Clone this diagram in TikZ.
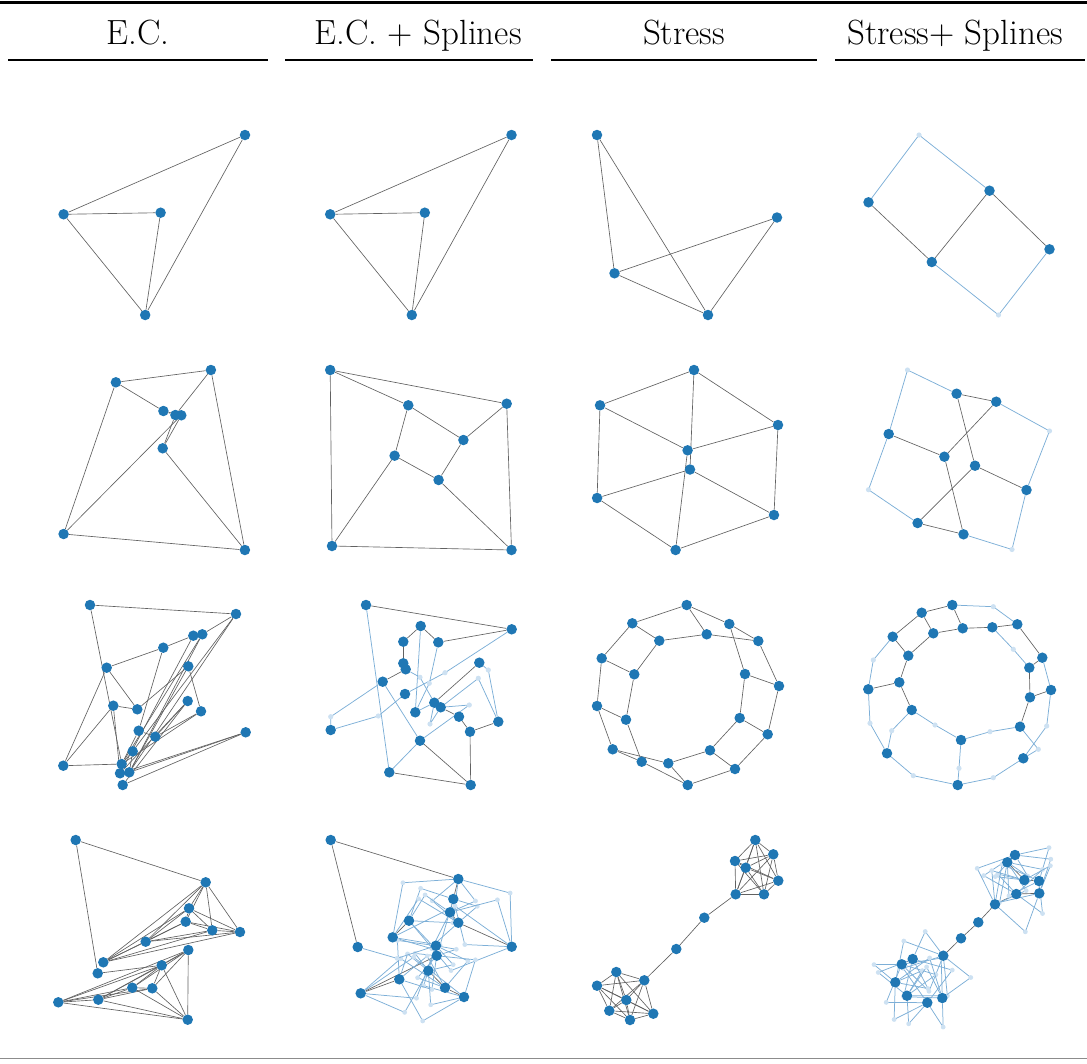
\documentclass[tikz,border=0pt]{standalone}
\usepackage{fontspec}
\usetikzlibrary{calc}
\definecolor{tabblue}{RGB}{31,119,180}
\definecolor{splblue}{RGB}{125,175,215}
\definecolor{cpcol}{RGB}{205,225,242}
\pgfdeclarelayer{bg}
\pgfsetlayers{bg,main}
\tikzset{
 vtx/.style={circle,fill=tabblue,inner sep=0pt,minimum size=10.5pt},
 edg/.style={draw=black!62,line width=0.65pt},
 spl/.style={draw=splblue,line width=0.75pt},
 hdr/.style={font=\fontsize{35}{40}\selectfont,anchor=base,inner sep=0pt},
 rulel/.style={line width=1.2pt},
}
\newcommand\bentedge[3]{%
 \draw[spl] (#1) -- ($(#1)!0.5!(#2)!#3!90:(#2)$) coordinate (tmpcp) -- (#2);
 \fill[cpcol] (tmpcp) circle (2.4pt);}
\newcommand\cpdot[1]{\fill[cpcol] (#1) circle (2.6pt);}
\begin{document}
\begin{tikzpicture}[x=1pt,y=-1pt]
\path[use as bounding box] (0,0) rectangle (1087,1063);
% header
\fill (0,1.3) rectangle (1087,4.3);
\node[hdr] (t1) at (138,44) {E.C.};
\node[hdr] (t2) at (418,44) {E.C. + Splines};
\node[hdr] (t3) at (684,44) {Stress};
\node[hdr] (t4) at (955,44) {Stress+ Splines};
\draw[rulel] (8,60) -- (268,60);
\draw[rulel] (285,60) -- (533,60);
\draw[rulel] (551,60) -- (817,60);
\draw[rulel] (835,60) -- (1085,60);
\draw[black!45,line width=0.9pt] (0,1058) -- (1087,1058);

% ---------- nodes ----------
\foreach \n/\x/\y in {1/245/135,2/63.6/214.3,3/160.6/212.7,4/145.2/315}
  \node[vtx] (a\n) at (\x,\y) {};
\foreach \n/\x/\y in {1/511.5/135,2/330.2/214.3,3/424.8/212.7,4/411.8/315}
  \node[vtx] (b\n) at (\x,\y) {};
\foreach \n/\x/\y in {1/597/135,2/777/217.5,3/614.5/273.3,4/708/315}
  \node[vtx] (c\n) at (\x,\y) {};
\foreach \n/\x/\y in {1/868.5/202.3,2/989.5/190.7,3/931.8/262,4/1049.5/249.3}
  \node[vtx] (d\n) at (\x,\y) {};
\coordinate (dp1) at (919,135);
\coordinate (dp2) at (998.5,315);

\foreach \n/\x/\y in {1/115.9/382.3,2/210.9/370,3/163.4/411,4/175.4/415,5/181.3/415.3,6/162.7/448.3,7/63.6/534,8/244.9/550}
  \node[vtx] (e\n) at (\x,\y) {};
\foreach \n/\x/\y in {1/330.2/370,2/506.7/403.7,3/408.3/405.3,4/463.4/440,5/394.6/455.7,6/438.6/480,7/332/546,8/511.5/550}
  \node[vtx] (f\n) at (\x,\y) {};
\foreach \n/\x/\y in {1/694/370,2/600/405.3,3/778/425,4/687.6/450.3,5/690/469.5,6/597.1/498,7/774/515,8/675.6/550}
  \node[vtx] (g\n) at (\x,\y) {};
\foreach \n/\x/\y in {1/956.6/393.7,2/996.2/401.7,3/888.7/434,4/944.4/456.7,5/975/465.7,6/1026.5/490,7/917.6/523,8/963.5/534.3}
  \node[vtx] (h\n) at (\x,\y) {};
\coordinate (hp1) at (907.5,370);
\coordinate (hp2) at (1049.5,431);
\coordinate (hp3) at (868.5,489.7);
\coordinate (hp4) at (1012,549.5);

\foreach \n/\x/\y in {1/90/605,2/236/614,3/193.3/635.7,4/202.3/634.3,5/163.3/647.7,6/106.7/667.7,7/188.3/666.3,8/113.3/705.7,9/137.3/709.3,10/187.7/701,11/201/711.3,12/138.7/730.7,13/155.3/736.7,14/245.7/732.3,15/132.7/751.3,16/63.3/765.7,17/121.7/764,18/120/773.3,19/129.3/772.3,20/122.7/785}
  \node[vtx] (i\n) at (\x,\y) {};
\foreach \n/\x/\y in {1/366/605,2/511.7/629.3,3/420.7/626,4/403.3/641.7,5/438.3/642.3,6/403.3/663.3,7/405.7/669.3,8/382.7/681.7,9/479.3/662.7,10/405/694,11/434.3/702.7,12/440.7/707.3,13/415.3/712.3,14/459/716.7,15/498.3/721.7,16/330.7/730,17/470/731.7,18/420/740.7,19/389.3/772.3,20/470.7/785}
  \node[vtx] (j\n) at (\x,\y) {};
\foreach \n/\x/\y in {1/330.7/716.7,2/378.3/716,3/420/677.3,4/445/672.7,5/429.3/683.3,6/488.3/670,7/478.3/678.3,8/469.3/705,9/430/724}
  \coordinate (jc\n) at (\x,\y);
\foreach \n/\x/\y in {1/686.7/605,2/632.3/623.3,3/729.3/624,4/659.3/640.7,5/706.7/634.3,6/758.3/641,7/601.7/658.3,8/634.3/674.3,9/745/674,10/779/686,11/597/706,12/626/719.7,13/739.7/718,14/767.7/734.3,15/612.7/749.3,16/641.7/761.7,17/668.3/763.3,18/710/750.3,19/735/769,20/687.7/785}
  \node[vtx] (k\n) at (\x,\y) {};
\foreach \n/\x/\y in {1/952.3/605,2/921.7/612.7,3/1017.3/624.3,4/933.3/633.3,5/962.7/628.3,6/992.3/627.3,7/892.7/636.7,8/908.3/655.7,9/1042.3/657.7,10/1029.3/667.7,11/899.3/682.3,12/868.3/689.3,13/1051/690,14/1030/697.3,15/911.7/710,16/1020/726.7,17/961/740,18/887/753.3,19/1023.3/758.3,20/957.7/785}
  \node[vtx] (l\n) at (\x,\y) {};
\foreach \n/\x/\y in {1/993.3/606.7,2/1013.3/649.3,3/873.3/660,4/870/723.3,5/935/725,6/891.7/730.7,7/990/731.7,8/959/768.3,9/913.3/775.7,10/993.3/777.7,11/1046.7/726,12/1038.3/749.3}
  \coordinate (lc\n) at (\x,\y);

\foreach \n/\x/\y in {1/75.7/840,2/205.7/882.3,3/189/908.3,4/185.7/921.7,5/212.3/930.3,6/240/932,7/145.7/941.7,8/103.3/962.3,9/97.7/973.3,10/188.3/950,11/161.7/965.3,12/132.3/987.7,13/152.3/988.3,14/58.3/1002.3,15/98.3/999.7,16/187.7/1019.7}
  \node[vtx] (m\n) at (\x,\y) {};
\foreach \n/\x/\y in {1/330.7/840,2/458.3/879,3/453.3/899,4/450/912.3,5/458.3/922.7,6/409/920.7,7/392.7/937.3,8/511.7/946.7,9/357.7/947,10/436/945.7,11/436.7/955.7,12/428.3/970.7,13/399.3/979.3,14/445/987.7,15/360.7/993.3,16/464/997}
  \node[vtx] (n\n) at (\x,\y) {};
\foreach \n/\x/\y in {1/755.3/840,2/735/861,3/773.3/854.3,4/745.7/867.7,5/778.3/880.7,6/764/894.3,7/735.7/894.3,8/704.3/917.7,9/676.3/949,10/644.3/980.3,11/616.3/972,12/597/985.7,13/626.3/1000,14/609.3/1010.7,15/630/1020,16/653.3/1013.7}
  \node[vtx] (o\n) at (\x,\y) {};
\foreach \n/\x/\y in {1/1015/855,2/1007.3/862.3,3/1024.3/880,4/1039/881,5/1016.3/894,6/1039.3/893.3,7/995/904.3,8/978.3/922.3,9/961/938.3,10/943.3/955.7,11/912.7/959,12/901.7/964.3,13/895.3/982.3,14/907/995.7,15/927.3/1002.7,16/942.3/998}
  \node[vtx] (q\n) at (\x,\y) {};

% ---------- edges ----------
\begin{pgfonlayer}{bg}
% row 1
\foreach \u/\w in {1/2,1/4,2/3,2/4,3/4}{\draw[edg] (a\u) -- (a\w); \draw[edg] (b\u) -- (b\w);}
\foreach \u/\w in {1/3,1/4,3/2,3/4,2/4}\draw[edg] (c\u) -- (c\w);
\foreach \u/\w in {1/3,3/2,2/4}\draw[edg] (d\u) -- (d\w);
\draw[spl] (d1) -- (dp1) -- (d2);
\draw[spl] (d3) -- (dp2) -- (d4);
\cpdot{dp1}\cpdot{dp2}
% row 2
\foreach \u/\w in {1/2,1/3,1/7,2/8,2/4,7/8,7/5,6/8,3/4,4/6,5/6,3/5}\draw[edg] (e\u) -- (e\w);
\foreach \u/\w in {1/2,1/7,2/8,7/8,1/3,2/4,7/5,8/6,3/4,3/5,5/6,4/6}\draw[edg] (f\u) -- (f\w);
\foreach \u/\w in {1/2,1/3,2/6,6/8,8/7,7/3,4/2,4/3,4/8,5/6,5/7,5/1}\draw[edg] (g\u) -- (g\w);
\foreach \u/\w in {1/2,3/4,2/4,1/5,5/6,7/8,4/8,5/7}\draw[edg] (h\u) -- (h\w);
\draw[spl] (h3) -- (hp1) -- (h1);
\draw[spl] (h2) -- (hp2) -- (h6);
\draw[spl] (h3) -- (hp3) -- (h7);
\draw[spl] (h8) -- (hp4) -- (h6);
\cpdot{hp1}\cpdot{hp2}\cpdot{hp3}\cpdot{hp4}
% row 3
\foreach \u/\w in {1/2,1/17,2/4,2/15,2/19,3/4,3/5,3/18,4/19,4/17,5/6,5/12,6/9,6/16,7/9,7/11,7/19,8/9,8/16,8/18,10/13,10/20,11/13,11/17,12/13,12/17,14/18,14/19,14/20,15/19,15/17,16/17,10/18}
  \draw[edg] (i\u) -- (i\w);
\foreach \u/\w in {1/2,3/4,3/5,5/2,4/6,7/8,9/11,12/14,14/17,17/15,17/20,18/20,19/20}
  \draw[edg] (j\u) -- (j\w);
\draw[spl] (j1) -- (j19);
\draw[spl] (j2) -- (jc4) -- (j10);
\draw[spl] (j3) -- (j13);
\draw[spl] (j7) -- (jc3) -- (j11);
\draw[spl] (j5) -- (jc5) -- (j13);
\draw[spl] (j16) -- (jc1) -- (j8);
\draw[spl] (j16) -- (jc2) -- (j10);
\draw[spl] (j8) -- (j18);
\draw[spl] (j13) -- (j11);
\draw[spl] (j11) -- (jc9) -- (j12);
\draw[spl] (j9) -- (jc6) -- (j15);
\draw[spl] (j12) -- (jc7) -- (j15);
\draw[spl] (j19) -- (j18);
\draw[spl] (j18) -- (jc8) -- (j12);
\foreach \n in {1,...,9}{\cpdot{jc\n}}
\foreach \u/\w in {1/2,1/3,1/5,2/4,2/7,4/5,4/8,5/6,3/6,3/9,6/10,7/8,7/11,8/12,9/10,9/13,10/14,11/12,11/15,12/16,13/14,13/18,14/19,15/16,15/17,16/20,17/18,17/20,18/19,19/20}
  \draw[edg] (k\u) -- (k\w);
\foreach \u/\w in {1/2,2/4,4/5,1/5,5/6,6/3,2/7,7/8,4/8,8/11,11/12,11/15,3/9,9/10,10/14,14/13,14/16}
  \draw[edg] (l\u) -- (l\w);
\foreach \u/\c/\w in {1/1/3,6/2/10,7/3/12,12/4/18,15/5/17,15/6/18,17/7/16,17/8/20,18/9/20,20/10/19,13/11/19,16/12/19}
  \draw[spl] (l\u) -- (lc\c) -- (l\w);
\draw[spl] (l9) -- (l13);
\foreach \n in {1,...,12}{\cpdot{lc\n}}
% row 4
\foreach \u [count=\i] in {2,...,8}{\foreach \w [count=\j] in {2,...,8}{\ifnum\j>\i \draw[edg] (m\u) -- (m\w);\fi}}
\foreach \u [count=\i] in {10,...,16}{\foreach \w [count=\j] in {10,...,16}{\ifnum\j>\i \draw[edg] (m\u) -- (m\w);\fi}}
\draw[edg] (m1) -- (m2); \draw[edg] (m1) -- (m9); \draw[edg] (m9) -- (m11);
\foreach \u [count=\i] in {1,...,7}{\foreach \w [count=\j] in {1,...,7}{\ifnum\j>\i \draw[edg] (o\u) -- (o\w);\fi}}
\foreach \u [count=\i] in {10,...,16}{\foreach \w [count=\j] in {10,...,16}{\ifnum\j>\i \draw[edg] (o\u) -- (o\w);\fi}}
\draw[edg] (o7) -- (o8); \draw[edg] (o8) -- (o9); \draw[edg] (o9) -- (o10);
% n cell
\foreach \u/\w in {1/2,1/9,2/3,3/4,4/5,5/8,6/7,11/15,13/15,12/14,14/16}\draw[edg] (n\u) -- (n\w);
\foreach \u/\w/\d in {2/4/22pt,2/5/-26pt,2/6/30pt,2/7/-34pt,2/8/32pt,3/5/22pt,3/6/-24pt,3/7/32pt,3/8/-28pt,4/6/-22pt,4/7/26pt,4/8/34pt,5/6/24pt,5/7/-32pt,6/8/-38pt,7/8/36pt,
 10/12/22pt,10/13/-30pt,10/14/28pt,10/15/34pt,10/16/-30pt,11/12/-20pt,11/13/26pt,11/14/-24pt,11/16/30pt,12/13/-22pt,12/15/32pt,12/16/-26pt,13/14/28pt,13/16/-34pt,14/15/-32pt,15/16/38pt,10/11/20pt,9/10/-12pt}
  {\bentedge{n\u}{n\w}{\d}}
% q cell
\foreach \u/\w in {2/3,3/4,4/6,5/6,5/7,7/8,8/9,9/10,11/12}\draw[edg] (q\u) -- (q\w);
\foreach \u/\w/\d in {1/2/24pt,1/3/-26pt,1/4/30pt,1/5/-32pt,1/6/28pt,1/7/-30pt,2/4/-28pt,2/5/32pt,2/6/-34pt,2/7/26pt,3/5/-26pt,3/6/28pt,3/7/-28pt,4/5/30pt,4/7/-32pt,6/7/34pt,
 10/11/-26pt,10/12/32pt,10/13/-32pt,10/14/30pt,10/15/-34pt,10/16/28pt,11/13/30pt,11/14/-32pt,11/15/34pt,11/16/-30pt,12/13/-26pt,12/14/32pt,12/15/-34pt,12/16/30pt,13/14/28pt,13/15/-32pt,13/16/34pt,14/15/-26pt,14/16/30pt,15/16/-28pt}
  {\bentedge{q\u}{q\w}{\d}}
\end{pgfonlayer}
\end{tikzpicture}
\end{document}
